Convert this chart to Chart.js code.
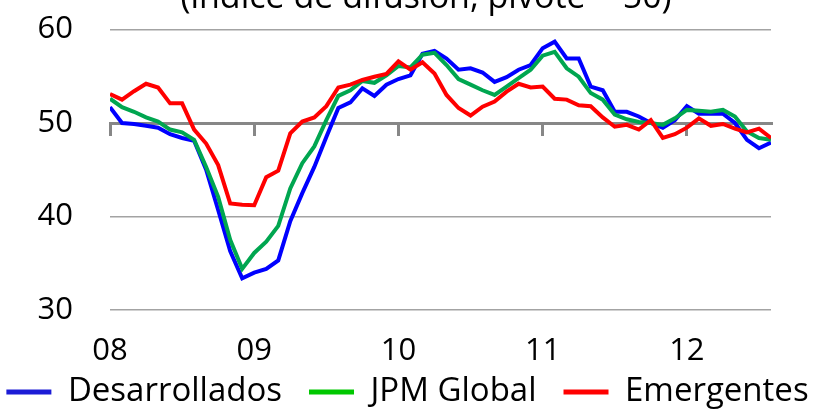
<!DOCTYPE html>
<html>
<head>
<meta charset="utf-8">
<script src="https://cdn.jsdelivr.net/npm/chart.js@4.4.1/dist/chart.umd.min.js"></script>
<style>
  html, body { margin: 0; padding: 0; background: #ffffff; }
  #wrap { width: 815px; height: 409px; }
</style>
</head>
<body>
<div id="wrap"><canvas id="pmi" width="815" height="409"></canvas></div>
<script>
// PMI manufacturero, ene-2008 a ago-2012 (índice de difusión, 50 = pivote)
const titleText = '(índice de difusión, pivote = 50)';
const seriesNames = ['Desarrollados', 'JPM Global', 'Emergentes'];
const yearLabels = ['08', '09', '10', '11', '12'];
const yearStartMonths = [0, 12, 24, 36, 48];

const desarrollados = [
  51.7, 50.0, 49.9, 49.7, 49.5, 48.8, 48.4, 48.1, 45.0, 40.7, 36.3, 33.4,
  34.0, 34.4, 35.3, 39.5, 42.5, 45.3, 48.5, 51.6, 52.2, 53.7, 52.9, 54.1,
  54.7, 55.1, 57.4, 57.7, 56.9, 55.7, 55.85, 55.4, 54.4, 54.9, 55.7, 56.2,
  58.0, 58.7, 56.9, 56.9, 53.9, 53.5, 51.2, 51.2, 50.7, 50.0, 49.5, 50.3,
  51.8, 51.0, 51.0, 51.0, 50.0, 48.2, 47.3, 47.9
];
const jpmGlobal = [
  52.6, 51.7, 51.2, 50.6, 50.15, 49.3, 49.0, 48.2, 45.3, 42.1, 37.5, 34.4,
  36.1, 37.3, 39.0, 43.0, 45.7, 47.5, 50.3, 52.9, 53.5, 54.5, 54.3, 55.1,
  56.1, 55.95, 57.3, 57.5, 56.2, 54.7, 54.1, 53.5, 53.0, 53.9, 54.8, 55.7,
  57.2, 57.6, 55.85, 54.95, 53.2, 52.5, 50.9, 50.4, 50.1, 50.0, 49.8, 50.5,
  51.4, 51.3, 51.2, 51.4, 50.7, 49.1, 48.4, 48.2
];
const emergentes = [
  53.1, 52.5, 53.4, 54.2, 53.8, 52.1, 52.1, 49.3, 47.8, 45.5, 41.4, 41.25,
  41.2, 44.2, 44.9, 48.9, 50.15, 50.6, 51.8, 53.8, 54.1, 54.6, 54.95, 55.25,
  56.6, 55.7, 56.5, 55.3, 53.0, 51.6, 50.8, 51.75, 52.3, 53.35, 54.2, 53.8,
  53.9, 52.6, 52.5, 51.9, 51.8, 50.6, 49.6, 49.8, 49.3, 50.3, 48.4, 48.8,
  49.5, 50.5, 49.7, 49.9, 49.4, 49.0, 49.4, 48.4
];

const lastMonth = desarrollados.length - 1;
const toPoints = values => values.map((v, i) => ({ x: i, y: v }));
const yearTicks = scale => { scale.ticks = yearStartMonths.map(v => ({ value: v })); };
const fontFamily = '"Open Sans", "Noto Sans", sans-serif';

// Title sits partly above the canvas edge, so it is painted directly.
const clippedTitle = {
  id: 'clippedTitle',
  afterDraw(chart) {
    const c = chart.ctx;
    c.save();
    c.font = '34px ' + fontFamily;
    c.fillStyle = '#000000';
    c.textAlign = 'center';
    c.textBaseline = 'alphabetic';
    c.fillText(titleText, 426, 8);
    c.restore();
  }
};

function draw() {
  const ctx = document.getElementById('pmi').getContext('2d');
  new Chart(ctx, {
    type: 'line',
    data: {
      datasets: [
        { label: seriesNames[0], data: toPoints(desarrollados), borderColor: '#0000ff', backgroundColor: '#1c1cd6', order: 2 },
        { label: seriesNames[1], data: toPoints(jpmGlobal), borderColor: '#00a650', backgroundColor: '#00c800', order: 1 },
        { label: seriesNames[2], data: toPoints(emergentes), borderColor: '#ff0000', backgroundColor: '#ff0000', order: 0 }
      ]
    },
    options: {
      responsive: false,
      animation: false,
      devicePixelRatio: 1,
      layout: { padding: { left: -25, right: -25, top: 29.5, bottom: -9.5 } },
      elements: {
        line: { borderWidth: 4, tension: 0, fill: false },
        point: { radius: 0, hoverRadius: 0 }
      },
      plugins: {
        tooltip: { enabled: false },
        legend: {
          position: 'bottom',
          align: 'center',
          labels: {
            font: { family: fontFamily, size: 33 },
            color: '#000000',
            boxWidth: 45,
            boxHeight: 5,
            padding: 27,
            sort: (a, b) => a.datasetIndex - b.datasetIndex,
            generateLabels: chart =>
              Chart.defaults.plugins.legend.labels.generateLabels(chart).map(item => ({ ...item, lineWidth: 0 }))
          }
        }
      },
      scales: {
        // month axis used by the series; it only reserves the band above the legend
        x: {
          type: 'linear',
          position: 'bottom',
          min: 0,
          max: lastMonth,
          grid: { display: false },
          border: { display: false },
          ticks: { display: false },
          afterFit: s => { s.height = 38.5; s.paddingLeft = 0; s.paddingRight = 0; }
        },
        // axis crossing at the 50 pivot, with year tick marks and year labels at the bottom
        xPivot: {
          type: 'linear',
          position: { y: 50 },
          min: 0,
          max: lastMonth,
          afterBuildTicks: yearTicks,
          afterFit: s => { s.height = 0; s.paddingLeft = 0; s.paddingRight = 0; },
          grid: { drawOnChartArea: false, drawTicks: true, tickLength: 11, color: '#878787', lineWidth: 3 },
          border: { display: true, color: '#878787', width: 3 },
          ticks: {
            autoSkip: false,
            maxRotation: 0,
            padding: 199,
            color: '#000000',
            font: { family: fontFamily, size: 31 },
            callback: (value, index) => yearLabels[index]
          }
        },
        y: {
          min: 30,
          max: 60,
          afterFit: s => { s.width = 135; s.paddingTop = 0; s.paddingBottom = 0; },
          ticks: {
            stepSize: 10,
            padding: 37,
            color: '#000000',
            font: { family: fontFamily, size: 31 }
          },
          grid: {
            drawTicks: false,
            color: '#a3a3a3',
            lineWidth: c => (c.tick && c.tick.value === 50 ? 0 : 1.5)
          },
          border: { display: false }
        },
        yRight: {
          position: 'right',
          min: 30,
          max: 60,
          afterFit: s => { s.width = 69; s.paddingTop = 0; s.paddingBottom = 0; },
          grid: { display: false },
          border: { display: false },
          ticks: { display: false }
        }
      }
    },
    plugins: [clippedTitle]
  });
}

if (document.fonts && document.fonts.load) {
  document.fonts.load('33px "Open Sans"').then(draw, draw);
} else {
  draw();
}
</script>
</body>
</html>
